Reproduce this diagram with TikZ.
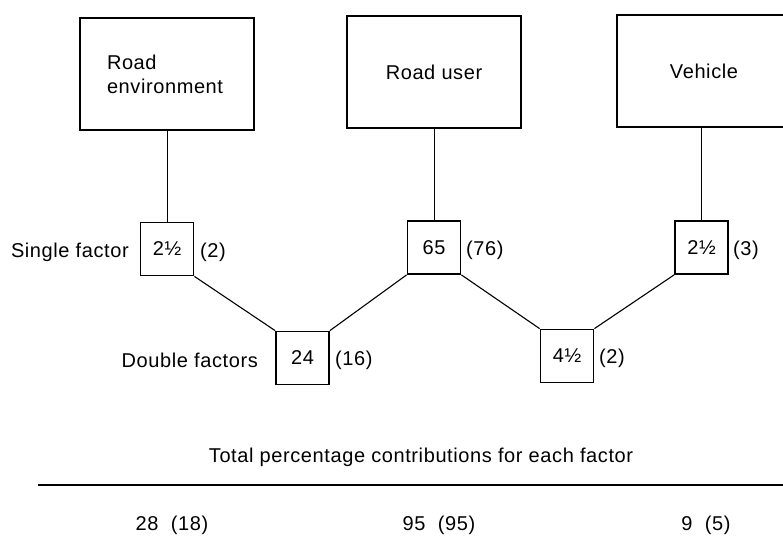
\documentclass[tikz,border=0pt]{standalone}
\usepackage{fontspec}
\setmainfont{Liberation Sans}[LetterSpace=3]
\begin{document}
\begin{tikzpicture}[x=1pt,y=-1pt,
  font=\fontsize{20}{24}\selectfont,
  bigbox/.style={draw, line width=1.8pt, minimum width=174pt, minimum height=112pt, inner sep=0pt},
  smallbox/.style={draw, line width=1.8pt, minimum width=53pt, minimum height=53pt, inner sep=0pt},
  vline/.style={line width=0.7pt},
  dline/.style={line width=1.1pt},
  lbl/.style={inner sep=0pt}]
\useasboundingbox (0,0) rectangle (783,546);
% factor boxes
\node[bigbox, align=left, text width=120pt] (re) at (167,74) {Road\\environment};
\node[bigbox] (ru) at (434,72) {Road user};
\node[bigbox] (ve) at (704,71) {Vehicle};
% single factor boxes
\node[smallbox] (s1) at (167,249) {2½};
\node[smallbox] (s2) at (434,247.5) {65};
\node[smallbox] (s3) at (701.5,247.5) {2½};
% double factor boxes
\node[smallbox] (d1) at (302.5,358) {24};
\node[smallbox] (d2) at (567,356) {4½};
% connectors
\draw[vline] (re.south) -- (s1.north);
\draw[vline] (ru.south) -- (s2.north);
\draw[vline] (ve.south -| s3.north) -- (s3.north);
\draw[dline] (s1.south east) -- (d1.north west);
\draw[dline] (d1.north east) -- (s2.south west);
\draw[dline] (s2.south east) -- (d2.north west);
\draw[dline] (d2.north east) -- (s3.south west);
% labels
\node[lbl, anchor=base east] (lsingle) at (129,257) {Single factor};
\node[lbl, anchor=base west] (p1) at (200,257) {(2)};
\node[lbl, anchor=base west] (p2) at (466,255) {(76)};
\node[lbl, anchor=base west] (p3) at (733,255) {(3)};
\node[lbl, anchor=base east] (ldouble) at (258,367) {Double factors};
\node[lbl, anchor=base west] (p4) at (335,365) {(16)};
\node[lbl, anchor=base west] (p5) at (599,363) {(2)};
% totals
\node[lbl, anchor=base] (ttl) at (421,462) {Total percentage contributions for each factor};
\coordinate (rl) at (38,485);
\coordinate (rr) at (783,485);
\draw[line width=2pt] (rl) -- (rr);
\node[lbl, anchor=base] (t1) at (172,530) {28\ \ (18)};
\node[lbl, anchor=base] (t2) at (439,530) {95\ \ (95)};
\node[lbl, anchor=base] (t3) at (706,530) {9\ \ (5)};
\end{tikzpicture}
\end{document}
